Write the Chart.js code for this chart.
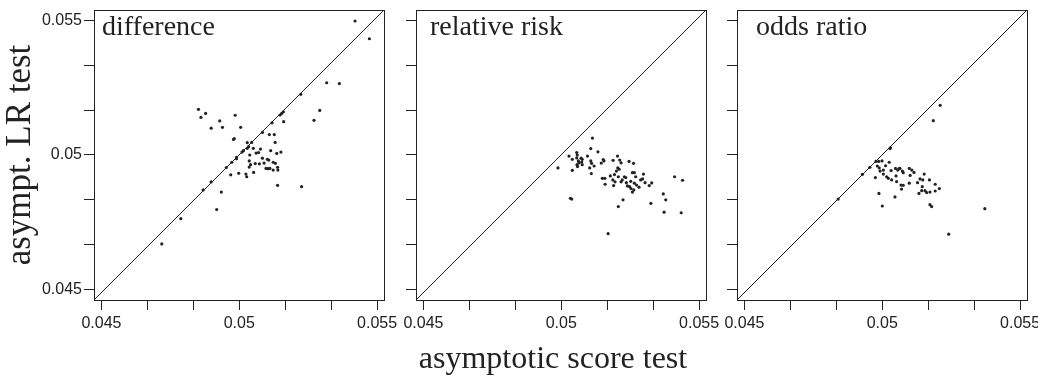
<!DOCTYPE html>
<html>
<head>
<meta charset="utf-8">
<script src="https://cdn.jsdelivr.net/npm/chart.js@4.4.0/dist/chart.umd.min.js"></script>
<style>
  html, body { margin: 0; padding: 0; background: #fff; }
  #wrap { position: relative; width: 1038px; height: 385px; overflow: hidden; }
  #wrap canvas { position: absolute; left: 0; top: 0; }
  #xtitle {
    position: absolute; top: 341px; left: 553px; transform: translateX(-50%);
    font: 32px/32px "Liberation Serif", "Times New Roman", serif; color: #222; white-space: nowrap;
  }
</style>
</head>
<body>
<div id="wrap">
  <canvas id="c1" width="1038" height="385"></canvas>
  <canvas id="c2" width="1038" height="385"></canvas>
  <canvas id="c3" width="1038" height="385"></canvas>
  <div id="xtitle">asymptotic score test</div>
</div>
<script>
// axis setup
const xRange = [0.04473, 0.05525];
const yRange = [0.0446, 0.0554];
const tickValues = [0.045, 0.0466667, 0.0483333, 0.05, 0.0516667, 0.0533333, 0.055];
const tickLabels = ["0.045", "", "", "0.05", "", "", "0.055"];

// difference
const diffX = [0.05420,0.05472,0.05317,0.05363,0.05223,0.04852,0.04878,0.04861,0.05292,0.05160,
  0.05154,0.05148,0.04985,0.04929,0.05161,0.05271,0.05119,0.04898,0.04939,0.05005,
  0.05084,0.05109,0.05127,0.04982,0.04979,0.05045,0.05029,0.05130,0.05034,0.05051,
  0.05029,0.05015,0.05010,0.05077,0.05070,0.05061,0.05114,0.05151,0.05136,0.05038,
  0.04990,0.04990,0.05084,0.05102,0.05107,0.04973,0.05036,0.04953,0.05041,0.05058,
  0.05073,0.05090,0.05123,0.05131,0.05036,0.05097,0.05104,0.05111,0.05123,0.05139,
  0.05140,0.04969,0.04998,0.05024,0.05027,0.05052,0.04898,0.04869,0.04935,0.05139,
  0.05226,0.04918,0.04788,0.04719];
const diffY = [0.05499,0.05433,0.05269,0.05266,0.05226,0.05170,0.05155,0.05140,0.05166,0.05161,
  0.05155,0.05149,0.05148,0.05127,0.05124,0.05129,0.05120,0.05100,0.05103,0.05103,
  0.05084,0.05076,0.05076,0.05061,0.05058,0.05047,0.05046,0.05047,0.05031,0.05025,
  0.05025,0.05016,0.05011,0.05022,0.05009,0.05007,0.05016,0.05011,0.05006,0.05000,
  0.04991,0.04986,0.04988,0.04984,0.04981,0.04973,0.04978,0.04953,0.04964,0.04968,
  0.04967,0.04970,0.04973,0.04969,0.04955,0.04950,0.04949,0.04950,0.04944,0.04954,
  0.04944,0.04926,0.04932,0.04929,0.04919,0.04935,0.04900,0.04870,0.04862,0.04887,
  0.04882,0.04797,0.04763,0.04669];

// relative risk
const rrX = [0.05113,0.05107,0.04988,0.05028,0.05040,0.05056,0.05058,0.05056,0.05062,0.05064,
  0.05072,0.05076,0.05074,0.05057,0.05059,0.05076,0.05040,0.05095,0.05107,0.05110,
  0.05103,0.05109,0.05119,0.05133,0.05145,0.05152,0.05155,0.05149,0.05158,0.05159,
  0.05188,0.05204,0.05212,0.05217,0.05246,0.05262,0.05205,0.05210,0.05200,0.05193,
  0.05178,0.05207,0.05229,0.05234,0.05187,0.05195,0.05190,0.05221,0.05236,0.05258,
  0.05265,0.05270,0.05252,0.05265,0.05273,0.05248,0.05253,0.05263,0.05288,0.05295,
  0.05298,0.05304,0.05319,0.05328,0.05033,0.05038,0.05224,0.05207,0.05325,0.05370,
  0.05379,0.05373,0.05435,0.05411,0.05440,0.05170,0.05217,0.05240,0.05258,0.05282];
const rrY = [0.05063,0.05024,0.04952,0.04996,0.04984,0.05009,0.05000,0.04989,0.04978,0.04971,
  0.04988,0.04984,0.04974,0.04964,0.04957,0.04964,0.04943,0.04996,0.04978,0.04969,
  0.04952,0.04931,0.04959,0.05012,0.04970,0.04983,0.04978,0.04913,0.04913,0.04891,
  0.04980,0.04996,0.04981,0.04971,0.04976,0.04969,0.04952,0.04947,0.04940,0.04927,
  0.04922,0.04919,0.04919,0.04916,0.04907,0.04900,0.04886,0.04907,0.04897,0.04934,
  0.04934,0.04919,0.04902,0.04895,0.04888,0.04882,0.04875,0.04870,0.04907,0.04911,
  0.04929,0.04897,0.04886,0.04896,0.04839,0.04836,0.04833,0.04808,0.04820,0.04855,
  0.04833,0.04787,0.04785,0.04919,0.04906,0.04707,0.04900,0.04885,0.04862,0.04880];

// odds ratio
const orX = [0.05210,0.05185,0.05030,0.05028,0.04955,0.04928,0.04840,0.04977,0.04987,0.04999,
  0.04982,0.04989,0.04975,0.05004,0.05012,0.05025,0.05016,0.05022,0.05032,0.05034,
  0.05048,0.05056,0.05064,0.05073,0.05076,0.05050,0.05052,0.05061,0.05068,0.05076,
  0.05070,0.05098,0.05107,0.05101,0.05115,0.05098,0.05128,0.05137,0.05147,0.05152,
  0.05145,0.05133,0.05143,0.05155,0.05161,0.05171,0.05173,0.05192,0.05192,0.05207,
  0.04988,0.05000,0.05046,0.05173,0.05179,0.05372,0.05241,0.04992,0.05004];
const orY = [0.05185,0.05128,0.05027,0.05024,0.04954,0.04928,0.04836,0.04976,0.04976,0.04978,
  0.04959,0.04952,0.04916,0.04944,0.04960,0.04973,0.04919,0.04913,0.04942,0.04907,
  0.04950,0.04944,0.04950,0.04940,0.04934,0.04922,0.04901,0.04949,0.04888,0.04887,
  0.04873,0.04950,0.04944,0.04924,0.04935,0.04895,0.04897,0.04911,0.04907,0.04929,
  0.04882,0.04857,0.04867,0.04867,0.04860,0.04907,0.04862,0.04891,0.04866,0.04875,
  0.04857,0.04810,0.04844,0.04815,0.04808,0.04800,0.04705,0.04940,0.04929];

const panels = [
  { id: "c1", title: "difference", xs: diffX, ys: diffY, boxLeft: 94, titleDx: 8, yLabels: true },
  { id: "c2", title: "relative risk", xs: rrX, ys: rrY, boxLeft: 416, titleDx: 14, yLabels: false },
  { id: "c3", title: "odds ratio", xs: orX, ys: orY, boxLeft: 737, titleDx: 19, yLabels: false },
];

const BOX = 290;
const ink = "#222";
const tickFont = { family: "'Liberation Sans', Arial, sans-serif", size: 16 };

// frame around plot + panel label
const framePlugin = {
  id: "frame",
  afterDraw(chart, args, opts) {
    const { ctx, chartArea: a } = chart;
    ctx.save();
    ctx.strokeStyle = ink;
    ctx.lineWidth = 1;
    ctx.strokeRect(Math.round(a.left) + 0.5, Math.round(a.top) + 0.5,
      Math.round(a.right - a.left), Math.round(a.bottom - a.top));
    ctx.fillStyle = ink;
    ctx.font = "28px 'Liberation Serif', 'Times New Roman', serif";
    ctx.textBaseline = "alphabetic";
    ctx.textAlign = "left";
    ctx.fillText(opts.text, a.left + opts.dx, 35);
    ctx.restore();
  },
};

panels.forEach((p) => {
  const yAxisW = p.yLabels ? 94 : 20;
  const pts = p.xs.map((x, i) => ({ x: x, y: p.ys[i] }));

  new Chart(document.getElementById(p.id), {
    type: "scatter",
    data: {
      datasets: [
        {
          data: [{ x: xRange[0], y: yRange[0] }, { x: xRange[1], y: yRange[1] }],
          showLine: true,
          borderColor: ink,
          borderWidth: 1,
          pointRadius: 0,
        },
        {
          data: pts,
          pointRadius: 1.6,
          pointBackgroundColor: ink,
          pointBorderWidth: 0,
        },
      ],
    },
    options: {
      responsive: false,
      animation: false,
      events: [],
      layout: {
        padding: { left: p.boxLeft - yAxisW, right: 1038 - p.boxLeft - BOX, top: 10, bottom: 45 },
      },
      plugins: {
        legend: { display: false },
        tooltip: { enabled: false },
        frame: { text: p.title, dx: p.titleDx },
      },
      scales: {
        x: {
          type: "linear",
          min: xRange[0],
          max: xRange[1],
          afterBuildTicks: (s) => { s.ticks = tickValues.map((v) => ({ value: v })); },
          afterFit: (s) => { s.height = 40; s.paddingLeft = 0; s.paddingRight = 0; },
          ticks: {
            callback: (v, i) => tickLabels[i],
            font: tickFont,
            color: ink,
            padding: 4,
            maxRotation: 0,
            autoSkip: false,
          },
          grid: { drawOnChartArea: false, tickLength: 10, color: ink },
          border: { display: false },
        },
        y: {
          type: "linear",
          min: yRange[0],
          max: yRange[1],
          afterBuildTicks: (s) => { s.ticks = tickValues.map((v) => ({ value: v })); },
          afterFit: (s) => { s.width = yAxisW; s.paddingTop = 0; s.paddingBottom = 0; },
          ticks: {
            display: p.yLabels,
            callback: (v, i) => tickLabels[i],
            font: tickFont,
            color: ink,
            padding: 2,
            autoSkip: false,
          },
          grid: { drawOnChartArea: false, tickLength: 10, color: ink },
          border: { display: false },
          title: {
            display: p.yLabels,
            text: "asympt. LR test",
            font: { family: "'Liberation Serif', 'Times New Roman', serif", size: 35 },
            color: ink,
            padding: { top: 0, bottom: 0 },
          },
        },
      },
    },
    plugins: [framePlugin],
  });
});
</script>
</body>
</html>
